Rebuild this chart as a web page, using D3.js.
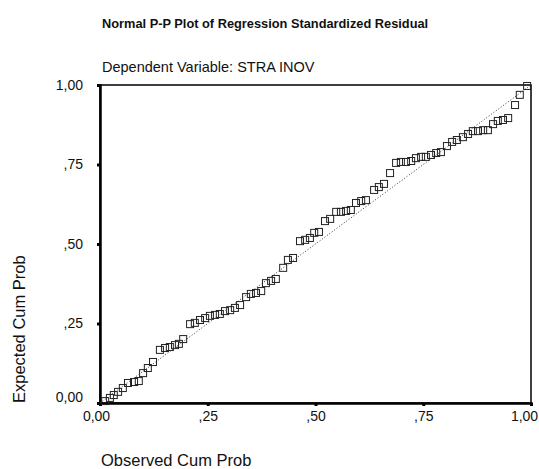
<!DOCTYPE html>
<html>
<head>
<meta charset="utf-8">
<script src="https://cdn.jsdelivr.net/npm/d3@7"></script>
<style>
  body { margin: 0; background: #fff; }
  text { font-family: Arial, "Liberation Sans", sans-serif; fill: #111; }
</style>
</head>
<body>
<div id="chart"></div>
<script>
// P-P plot values
var observed = [0.012, 0.023, 0.032, 0.042, 0.053, 0.065, 0.079, 0.090, 0.100, 0.111,
  0.123, 0.139, 0.151, 0.162, 0.174, 0.183, 0.193, 0.209, 0.220, 0.232,
  0.244, 0.255, 0.267, 0.278, 0.290, 0.302, 0.313, 0.325, 0.339, 0.350,
  0.362, 0.374, 0.385, 0.397, 0.408, 0.425, 0.436, 0.448, 0.464, 0.476,
  0.487, 0.497, 0.508, 0.522, 0.534, 0.548, 0.559, 0.571, 0.582, 0.594,
  0.606, 0.617, 0.636, 0.647, 0.659, 0.673, 0.687, 0.698, 0.710, 0.722,
  0.733, 0.745, 0.756, 0.768, 0.780, 0.791, 0.805, 0.817, 0.828, 0.842,
  0.854, 0.865, 0.877, 0.889, 0.900, 0.912, 0.923, 0.935, 0.947, 0.963,
  0.974, 0.991];
var expected = [0.006, 0.016, 0.025, 0.035, 0.047, 0.063, 0.066, 0.069, 0.094, 0.110,
  0.129, 0.167, 0.173, 0.176, 0.182, 0.186, 0.201, 0.248, 0.252, 0.261,
  0.267, 0.274, 0.277, 0.280, 0.289, 0.292, 0.299, 0.308, 0.333, 0.343,
  0.346, 0.352, 0.377, 0.384, 0.390, 0.425, 0.450, 0.456, 0.509, 0.513,
  0.519, 0.535, 0.538, 0.572, 0.579, 0.601, 0.601, 0.604, 0.607, 0.629,
  0.635, 0.638, 0.670, 0.679, 0.689, 0.723, 0.755, 0.758, 0.758, 0.761,
  0.770, 0.774, 0.774, 0.780, 0.786, 0.789, 0.808, 0.821, 0.827, 0.836,
  0.846, 0.855, 0.855, 0.858, 0.858, 0.877, 0.887, 0.890, 0.896, 0.937,
  0.969, 0.997];
var tickValues = [0, 0.25, 0.5, 0.75, 1];
var tickLabels = ["0,00", ",25", ",50", ",75", "1,00"];

var svgWidth = 539;
var svgHeight = 469;
var margin = { top: 85, right: 8, bottom: 66, left: 100 };
var width = svgWidth - margin.left - margin.right;
var height = svgHeight - margin.top - margin.bottom;

var svg = d3.select("#chart")
  .append("svg")
  .attr("width", svgWidth)
  .attr("height", svgHeight);

// titles
svg.append("text")
  .attr("x", 102)
  .attr("y", 28)
  .attr("font-size", "12.8px")
  .attr("font-weight", "bold")
  .text("Normal P-P Plot of Regression Standardized Residual");

svg.append("text")
  .attr("x", 102)
  .attr("y", 72)
  .attr("font-size", "14.5px")
  .text("Dependent Variable: STRA INOV");

var chartGroup = svg.append("g")
  .attr("transform", `translate(${margin.left}, ${margin.top})`);

var xScale = d3.scaleLinear().domain([0, 1]).range([0, width]);
var yScale = d3.scaleLinear().domain([0, 1]).range([height, 0]);

// frame
chartGroup.append("rect")
  .attr("x", 0).attr("y", 0)
  .attr("width", width).attr("height", height)
  .attr("fill", "none")
  .attr("stroke", "#000")
  .attr("stroke-width", 1.5);

// axes
var fmt = function(d) { return tickLabels[tickValues.indexOf(d)]; };

var xAxis = chartGroup.append("g")
  .attr("transform", `translate(0, ${height})`)
  .call(d3.axisBottom(xScale).tickValues(tickValues).tickFormat(fmt).tickSize(3).tickPadding(5));

var yAxis = chartGroup.append("g")
  .call(d3.axisLeft(yScale).tickValues(tickValues).tickFormat(fmt).tickSize(3).tickPadding(14));

[xAxis, yAxis].forEach(function(ax) {
  ax.select(".domain").attr("stroke", "#000").attr("stroke-width", 2.5);
  ax.selectAll(".tick line").attr("stroke", "#000").attr("stroke-width", 3);
  ax.selectAll(".tick text")
    .attr("font-size", "14px")
    .attr("fill", "#111")
    .style("font-family", "Arial, 'Liberation Sans', sans-serif");
});

// keep the end labels inside the picture like the scan
xAxis.selectAll(".tick text").filter(d => d === 1).attr("dx", "-7");
xAxis.selectAll(".tick text").filter(d => d === 0).attr("dx", "-4");
yAxis.selectAll(".tick text").filter(d => d === 0).attr("dy", "-0.1em");

// axis titles
svg.append("text")
  .attr("x", 101)
  .attr("y", 466)
  .attr("font-size", "16.5px")
  .text("Observed Cum Prob");

svg.append("text")
  .attr("transform", "translate(25, 403) rotate(-90)")
  .attr("font-size", "16.5px")
  .text("Expected Cum Prob");

// diagonal reference line
var line = d3.line()
  .x(d => xScale(d))
  .y(d => yScale(d));

chartGroup.append("path")
  .attr("d", line([0, 1]))
  .attr("fill", "none")
  .attr("stroke", "#333")
  .attr("stroke-width", 1)
  .attr("stroke-dasharray", "1,2");

// points
var pts = observed.map((o, i) => ({ o: o, e: expected[i] }));
var box = 7;

chartGroup.selectAll("rect.pt")
  .data(pts)
  .enter()
  .append("rect")
  .attr("class", "pt")
  .attr("x", d => xScale(d.o) - box / 2)
  .attr("y", d => yScale(d.e) - box / 2)
  .attr("width", box)
  .attr("height", box)
  .attr("fill", "none")
  .attr("stroke", "#222")
  .attr("stroke-width", 1);
</script>
</body>
</html>
